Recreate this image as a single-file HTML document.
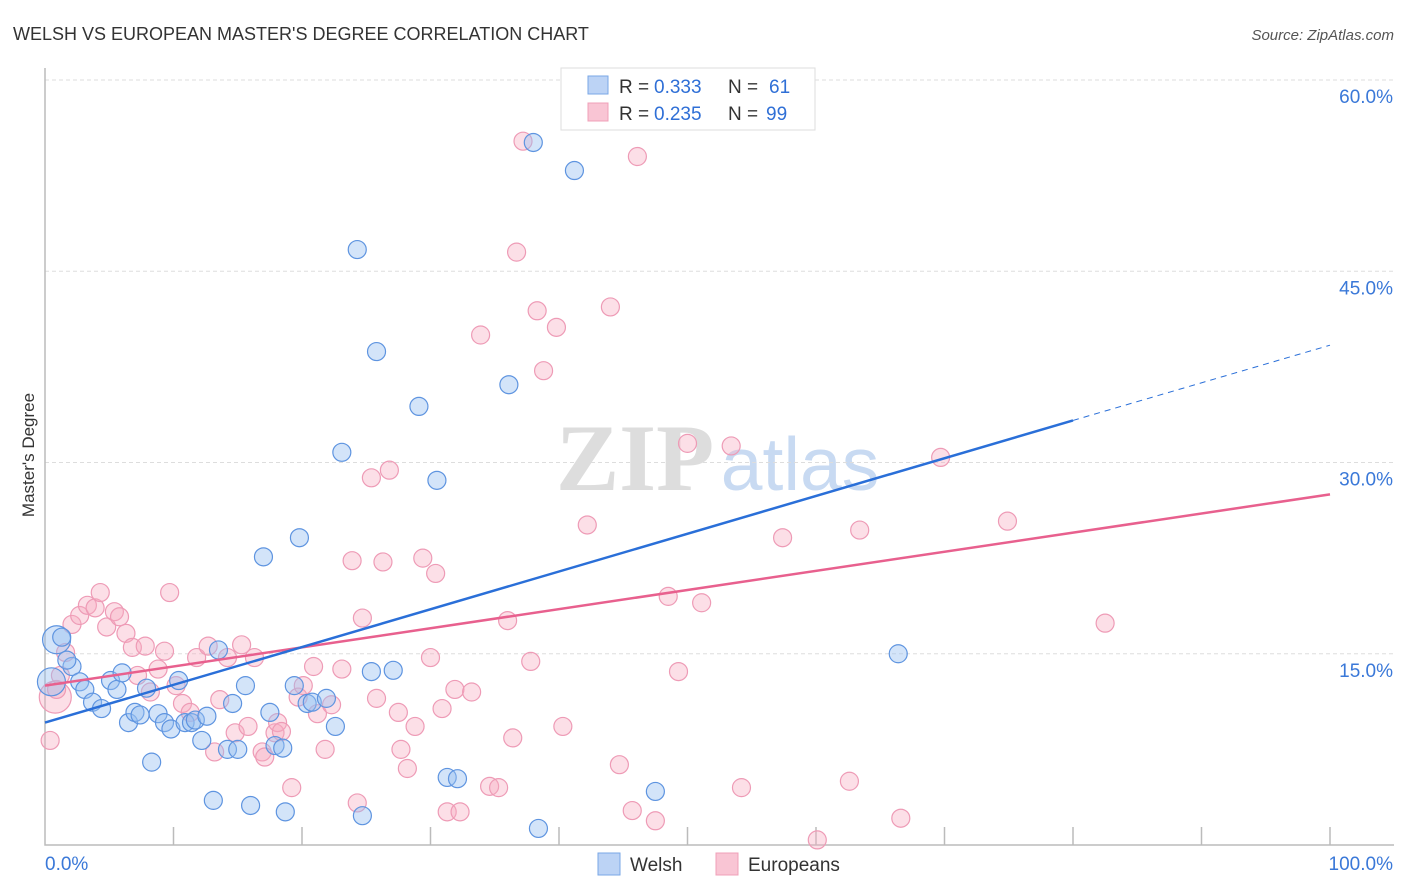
<!DOCTYPE html>
<html><head><meta charset="utf-8"><style>
body{margin:0;background:#fff;font-family:"Liberation Sans",sans-serif;}
svg{display:block}
</style></head><body>
<svg id="chart" width="1406" height="892" xmlns="http://www.w3.org/2000/svg">
<text x="13" y="40" font-size="18" fill="#333">WELSH VS EUROPEAN MASTER'S DEGREE CORRELATION CHART</text>
<text x="1394" y="40" font-size="15" fill="#555" font-style="italic" text-anchor="end">Source: ZipAtlas.com</text>
<text x="0" y="0" transform="translate(34,455) rotate(-90)" font-size="17" fill="#333" text-anchor="middle">Master's Degree</text>
<g>
<text x="635" y="490" font-size="95" font-family="Liberation Serif,serif" fill="#ddd" text-anchor="middle" font-weight="bold">ZIP</text>
<text x="800" y="490" font-size="75" fill="#c8daf2" text-anchor="middle">atlas</text>
</g>
<g id="grid"></g><g id="axes"></g>
<g id="pinkpts"></g><g id="bluepts"></g><g id="lines"></g>
<g>
<rect x="561" y="68" width="254" height="62" fill="#fff" stroke="#ddd"/>
<rect x="588" y="76" width="20" height="18" fill="#bcd3f5" stroke="#7aa7e6"/>
<rect x="588" y="103" width="20" height="18" fill="#f9c5d4" stroke="#f0a0b8"/>
<g font-size="19">
<text x="619" y="93" fill="#333">R =</text><text x="654" y="93" fill="#2f6fd6">0.333</text>
<text x="728" y="93" fill="#333">N =</text><text x="769" y="93" fill="#2f6fd6">61</text></g>
<g font-size="19">
<text x="619" y="120" fill="#333">R =</text><text x="654" y="120" fill="#2f6fd6">0.235</text>
<text x="728" y="120" fill="#333">N =</text><text x="766" y="120" fill="#2f6fd6">99</text></g>
</g>
<g>
<rect x="598" y="853" width="22" height="22" fill="#bcd3f5" stroke="#7aa7e6"/>
<text x="630" y="871" font-size="19" fill="#333">Welsh</text>
<rect x="716" y="853" width="22" height="22" fill="#f9c5d4" stroke="#f0a0b8"/>
<text x="748" y="871" font-size="19" fill="#333">Europeans</text>
</g>
</svg>
<script>
const yTicks=[15,30,45,60];
const yTickLabels=["15.0%","30.0%","45.0%","60.0%"];
const xTickLabels=["0.0%","100.0%"];
const blueX=[0.9,1.3,2.1,1.7,2.7,3.1,3.7,4.4,5.1,5.6,6.0,6.5,7.0,7.4,7.9,8.3,8.8,9.3,9.8,10.4,10.9,11.4,11.7,12.2,12.6,13.1,13.5,14.2,14.6,15.0,15.6,16.0,17.0,17.5,17.9,18.5,18.7,19.4,19.8,20.4,20.8,21.9,22.6,23.1,24.3,24.7,25.4,25.8,27.1,29.1,30.5,31.3,32.1,36.1,38.0,38.4,41.2,47.5,66.4,0.5];
const blueY=[16.1,16.3,14.0,14.5,12.8,12.2,11.2,10.7,12.9,12.2,13.5,9.6,10.4,10.2,12.3,6.5,10.3,9.6,9.1,12.9,9.6,9.6,9.8,8.2,10.1,3.5,15.3,7.5,11.1,7.5,12.5,3.1,22.6,10.4,7.8,7.6,2.6,12.5,24.1,11.1,11.2,11.5,9.3,30.8,46.7,2.3,13.6,38.7,13.7,34.4,28.6,5.3,5.2,36.1,55.1,1.3,52.9,4.2,15.0,12.8];
const blueBig=[0,59];
const pinkX=[0.4,0.8,0.9,1.2,1.6,2.1,2.7,3.3,3.9,4.3,4.8,5.4,5.8,6.3,6.8,7.2,7.8,8.2,8.8,9.3,9.7,10.2,10.7,11.3,11.8,12.7,13.2,13.6,14.2,14.8,15.3,15.8,16.3,16.9,17.1,17.9,18.1,18.4,19.2,19.7,20.1,20.9,21.2,21.8,22.3,23.1,23.9,24.3,24.7,25.4,25.8,26.3,26.8,27.5,27.7,28.2,28.8,29.4,30.0,30.4,30.9,31.3,31.9,32.3,33.2,33.9,34.6,35.3,36.0,36.4,36.7,37.2,37.8,38.3,38.8,39.8,40.3,42.2,44.0,44.7,45.7,46.1,47.5,48.5,49.3,50.0,51.1,53.4,54.2,57.4,60.1,62.6,63.4,66.6,69.7,74.9,82.5,53.1];
const pinkY=[8.2,11.6,12.2,13.3,15.1,17.3,18.0,18.8,18.6,19.8,17.1,18.3,17.9,16.6,15.5,13.3,15.6,12.0,13.8,15.2,19.8,12.5,11.1,10.4,14.7,15.6,7.3,11.4,14.7,8.8,15.7,9.3,14.7,7.3,6.9,8.8,9.6,8.9,4.5,11.6,12.5,14.0,10.3,7.5,11.0,13.8,22.3,3.3,17.8,28.8,11.5,22.2,29.4,10.4,7.5,6.0,9.3,22.5,14.7,21.3,10.7,2.6,12.2,2.6,12.0,40.0,4.6,4.5,17.6,8.4,46.5,55.2,14.4,41.9,37.2,40.6,9.3,25.1,42.2,6.3,2.7,54.0,1.9,19.5,13.6,31.5,19.0,31.3,4.5,24.1,0.4,5.0,24.7,2.1,30.4,25.4,17.4,58.8];
const pinkBig=[1];
const blueTrend=[9.6,33.3,39.2]; // at x=0, 80, 100
const pinkTrend=[12.5,27.5]; // at x=0, 100
const NS="http://www.w3.org/2000/svg";
const X=v=>45+v*12.85, Y=v=>845-v*12.75;
function mk(tag,attrs,parent){const e=document.createElementNS(NS,tag);for(const k in attrs)e.setAttribute(k,attrs[k]);parent.appendChild(e);return e;}
const grid=document.getElementById('grid'),axes=document.getElementById('axes');
yTicks.forEach((t,i)=>{
 const l=mk('line',{x1:45,x2:1394,y1:Y(t),y2:Y(t),stroke:'#ddd','stroke-dasharray':'4,3'},grid);
 
 
 const tx=mk('text',{x:1393,y:Y(t)+23,'font-size':19,fill:'#3a78d8','text-anchor':'end'},grid);
 tx.textContent=yTickLabels[i];
 
 
});
const ax=mk('path',{d:`M45,68 V845 H1394`,stroke:'#bbb',fill:'none','stroke-width':1.5},axes);


for(let i=1;i<=10;i++){const t=mk('line',{x1:X(i*10),x2:X(i*10),y1:827,y2:845,stroke:'#bbb','stroke-width':1.5},axes);
 
 }
[[0,'start',45],[100,'end',1393]].forEach((a,i)=>{const t=mk('text',{x:a[2],y:870,'font-size':19,fill:'#3a78d8','text-anchor':a[1]},axes);t.textContent=xTickLabels[i];
 
 });
const pp=document.getElementById('pinkpts');
pinkX.forEach((x,i)=>{const c=mk('circle',{cx:X(x),cy:Y(pinkY[i]),r:pinkBig.includes(i)?16:9,fill:'rgba(246,170,192,0.38)',stroke:'#ee9bb6','stroke-width':1.2},pp);
 
 });
const bp=document.getElementById('bluepts');
blueX.forEach((x,i)=>{const c=mk('circle',{cx:X(x),cy:Y(blueY[i]),r:blueBig.includes(i)?14:9,fill:'rgba(150,190,240,0.42)',stroke:'#5e94e0','stroke-width':1.2},bp);
 
 });
const lg=document.getElementById('lines');
let l=mk('line',{x1:X(0),y1:Y(pinkTrend[0]),x2:X(100),y2:Y(pinkTrend[1]),stroke:'#e8608e','stroke-width':2.5},lg);


l=mk('line',{x1:X(0),y1:Y(blueTrend[0]),x2:X(80),y2:Y(blueTrend[1]),stroke:'#2a6fd8','stroke-width':2.5},lg);


l=mk('line',{x1:X(80),y1:Y(blueTrend[1]),x2:X(100),y2:Y(blueTrend[2]),stroke:'#2a6fd8','stroke-width':1,'stroke-dasharray':'6,5'},lg);


</script>
</body></html>
